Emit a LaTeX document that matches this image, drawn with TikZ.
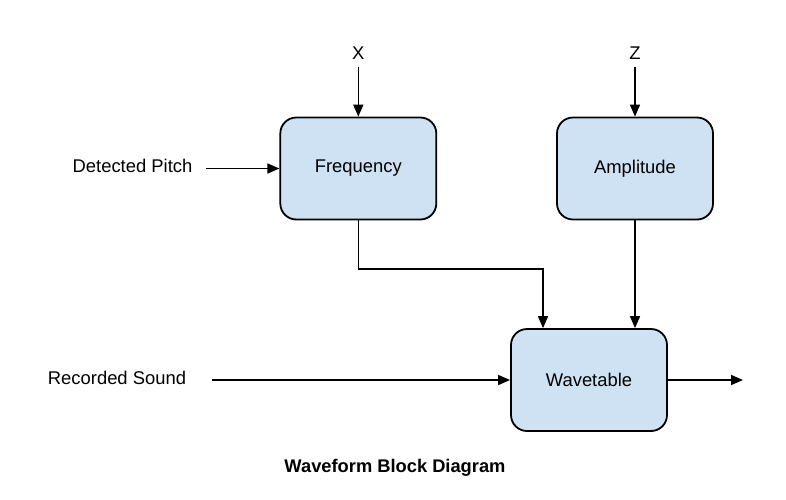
\documentclass[tikz,border=0pt]{standalone}
\usepackage{fontspec}
\setmainfont{Liberation Sans}
\usetikzlibrary{arrows.meta}
\definecolor{boxblue}{RGB}{207,226,243}
\begin{document}
\begin{tikzpicture}[x=1pt,y=-1pt,
  block/.style={draw=black, line width=1.8pt, fill=boxblue, rounded corners=16pt,
    minimum width=156pt, minimum height=102pt, inner sep=0pt,
    font=\fontsize{18.4}{22}\selectfont},
  lbl/.style={inner sep=0pt, font=\fontsize{18.4}{22}\selectfont},
  arr/.style={line width=1.6pt, -{Triangle[length=12pt,width=10pt]}}]
\useasboundingbox (0,0) rectangle (786,499);
\node[block] (freq) at (358.3,168.5) {Frequency};
\node[block] (amp) at (635,168.5) {Amplitude};
\node[block] (wav) at (589,380) {Wavetable};
\node[lbl, anchor=base] (xl) at (358.3,59.5) {X};
\node[lbl, anchor=base] (zl) at (635,59.5) {Z};
\node[lbl, anchor=base] (dp) at (132.5,172.5) {Detected Pitch};
\node[lbl, anchor=base] (rs) at (117,384.5) {Recorded Sound};
\node[lbl, anchor=base, font=\fontsize{18.3}{22}\selectfont\bfseries] (title) at (395,472.5) {Waveform Block Diagram};
\coordinate (dpend) at (206,168.5);
\coordinate (rsend) at (212,380);
\coordinate (outend) at (743,380);
\coordinate (fj) at (450,269);
\coordinate (wavin) at ([xshift=-46pt]wav.north);
\draw[arr] ([yshift=-7pt]xl.south) -- (freq.north);
\draw[arr] ([yshift=-7pt]zl.south) -- (amp.north);
\draw[arr] (dpend) -- (freq.west);
\draw[arr] (rsend) -- (wav.west);
\draw[arr] (wav.east) -- (outend);
\draw[arr] (freq.south) |- (wavin |- fj) -- (wavin);
\draw[arr] (amp.south) -- (amp.south |- wav.north);
\end{tikzpicture}
\end{document}
